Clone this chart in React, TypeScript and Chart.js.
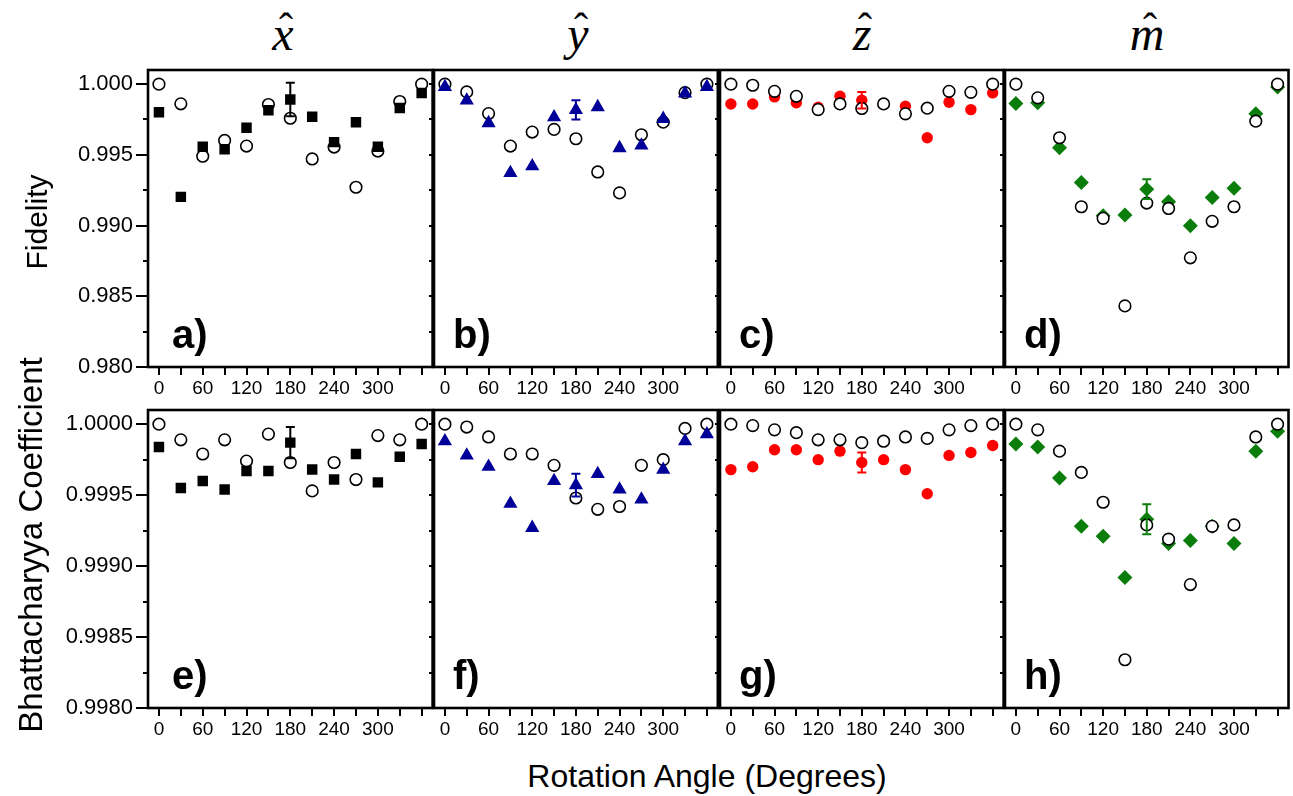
import React, { useEffect, useRef } from "react";
import { Chart, registerables } from "chart.js";
Chart.register(...registerables);

// ---------- data ----------
const angles = [0, 30, 60, 90, 120, 150, 180, 210, 240, 270, 300, 330, 360];
const labelAngles = [0, 60, 120, 180, 240, 300];
const errAngle = 180;

const fidelityTicks = [0.98, 0.985, 0.99, 0.995, 1.0];
const fidelityMinorTicks = [0.9825, 0.9875, 0.9925, 0.9975];
const bhattTicks = [0.998, 0.9985, 0.999, 0.9995, 1.0];
const bhattMinorTicks = [0.99825, 0.99875, 0.99925, 0.99975];

const fidXTheory = [1.0, 0.99861, 0.9949, 0.99602, 0.99562, 0.99856, 0.99759, 0.99471, 0.99555, 0.99271, 0.99527, 0.99877, 1.0];
const fidXMeas = [0.99801, 0.99203, 0.99558, 0.99539, 0.99692, 0.99816, 0.99891, 0.99769, 0.9959, 0.99731, 0.99558, 0.99832, 0.99938];
const fidYTheory = [1.0, 0.99945, 0.99792, 0.99562, 0.99661, 0.9968, 0.99614, 0.99379, 0.99231, 0.99642, 0.99731, 0.9994, 1.0];
const fidYMeas = [0.9998, 0.99885, 0.99725, 0.99372, 0.9942, 0.99766, 0.99818, 0.99838, 0.99548, 0.99567, 0.99755, 0.99935, 0.9998];
const fidZTheory = [1.0, 0.99992, 0.99949, 0.99914, 0.9982, 0.9986, 0.99828, 0.9986, 0.9979, 0.9983, 0.99949, 0.99942, 1.0];
const fidZMeas = [0.9986, 0.9986, 0.9991, 0.99868, 0.99837, 0.99914, 0.99886, 0.9986, 0.99844, 0.99621, 0.99872, 0.9982, 0.99938];
const fidMTheory = [1.0, 0.99903, 0.99621, 0.99133, 0.99051, 0.98432, 0.99159, 0.99121, 0.98772, 0.9903, 0.99133, 0.99738, 1.0];
const fidMMeas = [0.99863, 0.99868, 0.99551, 0.99304, 0.99069, 0.99074, 0.99257, 0.99168, 0.98999, 0.99199, 0.99264, 0.9979, 0.9998];

const bcXTheory = [1.0, 0.99989, 0.99979, 0.99989, 0.99974, 0.99993, 0.99973, 0.99953, 0.99973, 0.99961, 0.99992, 0.99989, 1.0];
const bcXMeas = [0.99984, 0.99955, 0.9996, 0.99954, 0.99967, 0.99967, 0.99987, 0.99968, 0.99961, 0.99979, 0.99959, 0.99977, 0.99986];
const bcYTheory = [1.0, 0.99998, 0.99991, 0.99979, 0.99979, 0.99971, 0.99948, 0.9994, 0.99942, 0.99971, 0.99975, 0.99997, 1.0];
const bcYMeas = [0.99988, 0.99978, 0.9997, 0.99944, 0.99927, 0.9996, 0.99957, 0.99965, 0.99954, 0.99947, 0.99968, 0.99988, 0.99993];
const bcZTheory = [1.0, 0.99999, 0.99996, 0.99994, 0.99989, 0.99989, 0.99987, 0.99988, 0.99991, 0.9999, 0.99996, 0.99999, 1.0];
const bcZMeas = [0.99968, 0.9997, 0.99982, 0.99982, 0.99975, 0.99981, 0.99973, 0.99975, 0.99968, 0.99951, 0.99978, 0.9998, 0.99985];
const bcMTheory = [1.0, 0.99996, 0.99981, 0.99966, 0.99945, 0.99834, 0.99929, 0.99919, 0.99887, 0.99928, 0.99929, 0.99991, 1.0];
const bcMMeas = [0.99986, 0.99984, 0.99962, 0.99928, 0.99921, 0.99892, 0.99933, 0.99916, 0.99918, 0.99928, 0.99916, 0.99981, 0.99995];

const fidErrors = [0.00118, 0.00068, 0.00059, 0.0007];
const bcErrors = [0.00011, 0.00008, 0.00007, 0.000105];

const panelLetters = ["a)", "b)", "c)", "d)", "e)", "f)", "g)", "h)"];
const columnTitles = ["x", "y", "z", "m"];

// ---------- layout / style ----------
const COL_L = [148, 434, 720, 1005];
const COL_R = [434, 720, 1005, 1290];
const ROW_T = [70, 410];
const ROW_B = [367, 708];
const PAD_TOP = 32;
const PAD_RIGHT = 6;
const PAD_BOTTOM = 40;
const SANS = '"Liberation Sans", Arial, Helvetica, sans-serif';

const seriesStyles = [
  { color: "#000000", pointStyle: "rect", radius: 7.4, onTop: true },
  { color: "#000099", pointStyle: "triangle", radius: 8.2, onTop: true },
  { color: "#ff0000", pointStyle: "circle", radius: 5.7, onTop: false },
  { color: "#0a7d0a", pointStyle: "rectRot", radius: 7.5, onTop: false },
];

const rowScales = [
  { min: 0.98, max: 1.001, major: fidelityTicks, minor: fidelityMinorTicks, dec: 3 },
  { min: 0.998, max: 1.0001, major: bhattTicks, minor: bhattMinorTicks, dec: 4 },
];

const theorySets = [fidXTheory, fidYTheory, fidZTheory, fidMTheory, bcXTheory, bcYTheory, bcZTheory, bcMTheory];
const measSets = [fidXMeas, fidYMeas, fidZMeas, fidMMeas, bcXMeas, bcYMeas, bcZMeas, bcMMeas];

type Panel = { row: number; col: number; index: number };
const panels: Panel[] = [];
for (let r = 0; r < 2; r++) for (let c = 0; c < 4; c++) panels.push({ row: r, col: c, index: r * 4 + c });

function padLeft(col: number) {
  return col === 0 ? COL_L[0] : 14;
}

function canvasBox(p: Panel) {
  const pl = padLeft(p.col);
  return {
    left: COL_L[p.col] - pl,
    top: ROW_T[p.row] - PAD_TOP,
    width: COL_R[p.col] - COL_L[p.col] + pl + PAD_RIGHT,
    height: ROW_B[p.row] - ROW_T[p.row] + PAD_TOP + PAD_BOTTOM,
  };
}

function makeChart(canvas: HTMLCanvasElement, p: Panel) {
  const style = seriesStyles[p.col];
  const rs = rowScales[p.row];
  const theory = theorySets[p.index];
  const meas = measSets[p.index];
  const err = (p.row === 0 ? fidErrors : bcErrors)[p.col];
  const errIdx = angles.indexOf(errAngle);

  const deco = {
    id: "panelDeco" + p.index,
    afterDatasetsDraw(chart: any) {
      const { ctx, scales } = chart;
      const x = scales.x;
      const y = scales.y;
      const cx = x.getPixelForValue(errAngle);
      const v = meas[errIdx];
      const y1 = y.getPixelForValue(v + err);
      const y2 = y.getPixelForValue(v - err);
      ctx.save();
      ctx.strokeStyle = style.color;
      ctx.lineWidth = 2;
      ctx.beginPath();
      ctx.moveTo(cx, y1);
      ctx.lineTo(cx, y2);
      ctx.moveTo(cx - 4.5, y1);
      ctx.lineTo(cx + 4.5, y1);
      ctx.moveTo(cx - 4.5, y2);
      ctx.lineTo(cx + 4.5, y2);
      ctx.stroke();
      ctx.restore();
    },
    afterDraw(chart: any) {
      const { ctx, chartArea: ca, scales } = chart;
      const x = scales.x;
      const y = scales.y;
      ctx.save();
      ctx.strokeStyle = "#000";
      ctx.lineWidth = 2.6;
      ctx.strokeRect(ca.left, ca.top, ca.right - ca.left, ca.bottom - ca.top);
      ctx.lineWidth = 2;
      ctx.beginPath();
      for (const a of angles) {
        const px = Math.round(x.getPixelForValue(a));
        ctx.moveTo(px, ca.bottom);
        ctx.lineTo(px, ca.bottom + 8);
      }
      const majorLen = p.col === 0 ? 12 : 5;
      const minorLen = 5;
      for (const t of rs.major) {
        const py = Math.round(y.getPixelForValue(t));
        ctx.moveTo(ca.left, py);
        ctx.lineTo(ca.left - majorLen, py);
      }
      for (const t of rs.minor) {
        const py = Math.round(y.getPixelForValue(t));
        ctx.moveTo(ca.left, py);
        ctx.lineTo(ca.left - minorLen, py);
      }
      ctx.stroke();
      ctx.fillStyle = "#000";
      ctx.font = "bold 40px " + SANS;
      ctx.textAlign = "left";
      ctx.textBaseline = "alphabetic";
      ctx.fillText(panelLetters[p.index], ca.left + (p.col === 0 ? 24 : 19), ca.bottom - 19);
      ctx.restore();
    },
  };

  return new Chart(canvas, {
    type: "scatter",
    data: {
      datasets: [
        {
          data: angles.map((a, i) => ({ x: a, y: meas[i] })),
          order: style.onTop ? 0 : 1,
          pointStyle: style.pointStyle as any,
          pointRadius: style.radius,
          backgroundColor: style.color,
          borderColor: style.color,
          borderWidth: 0,
        },
        {
          data: angles.map((a, i) => ({ x: a, y: theory[i] })),
          order: style.onTop ? 1 : 0,
          pointStyle: "circle",
          pointRadius: 5.8,
          backgroundColor: "#ffffff",
          borderColor: "#000000",
          borderWidth: 1.6,
        },
      ],
    },
    options: {
      responsive: false,
      animation: false,
      events: [],
      layout: { padding: { top: PAD_TOP, right: PAD_RIGHT, left: 0, bottom: 0 } },
      plugins: { legend: { display: false }, tooltip: { enabled: false } },
      scales: {
        x: {
          type: "linear",
          min: -15,
          max: 375,
          position: "bottom",
          afterBuildTicks: (s: any) => {
            s.ticks = angles.map((v) => ({ value: v }));
          },
          afterFit: (s: any) => {
            s.height = PAD_BOTTOM;
          },
          grid: { display: false, drawTicks: false },
          border: { display: false },
          ticks: {
            autoSkip: false,
            maxRotation: 0,
            minRotation: 0,
            padding: 10,
            color: "#000",
            font: { family: SANS, size: 19 },
            callback: (v: any) => (labelAngles.includes(Number(v)) ? String(v) : ""),
          },
        },
        y: {
          type: "linear",
          min: rs.min,
          max: rs.max,
          position: "left",
          afterBuildTicks: (s: any) => {
            s.ticks = rs.major.map((v) => ({ value: v }));
          },
          afterFit: (s: any) => {
            s.width = padLeft(p.col);
          },
          grid: { display: false, drawTicks: false },
          border: { display: false },
          ticks: {
            display: p.col === 0,
            padding: 15,
            color: "#000",
            font: { family: SANS, size: 22 },
            callback: (v: any) => Number(v).toFixed(rs.dec),
          },
        },
      },
    },
    plugins: [deco],
  } as any);
}

function PanelCanvas({ p }: { p: Panel }) {
  const ref = useRef<HTMLCanvasElement | null>(null);
  const box = canvasBox(p);
  useEffect(() => {
    if (!ref.current) return;
    const chart = makeChart(ref.current, p);
    return () => chart.destroy();
  }, []);
  return (
    <canvas
      ref={ref}
      width={box.width}
      height={box.height}
      style={{ position: "absolute", left: box.left, top: box.top, width: box.width, height: box.height }}
    />
  );
}

function HatTitle({ letter, cx }: { letter: string; cx: number }) {
  return (
    <>
      <div
        style={{
          position: "absolute",
          left: cx - 40,
          width: 80,
          top: 10,
          textAlign: "center",
          fontFamily: '"Liberation Serif", "Times New Roman", serif',
          fontStyle: "italic",
          fontSize: 48,
          lineHeight: "48px",
          color: "#000",
        }}
      >
        {letter}
      </div>
      <div
        style={{
          position: "absolute",
          left: cx - 40 + 3,
          width: 80,
          top: 8,
          textAlign: "center",
          fontFamily: '"Liberation Serif", "Times New Roman", serif',
          fontSize: 42,
          lineHeight: "40px",
          color: "#000",
        }}
      >
        {"\u02C6"}
      </div>
    </>
  );
}

const titleCenters = [283, 578, 862, 1147];

export default function App() {
  return (
    <div
      style={{
        position: "fixed",
        left: 0,
        top: 0,
        width: 1293,
        height: 796,
        overflow: "hidden",
        background: "#fff",
      }}
    >
      {columnTitles.map((t, i) => (
        <HatTitle key={t} letter={t} cx={titleCenters[i]} />
      ))}
      {panels.map((p) => (
        <PanelCanvas key={p.index} p={p} />
      ))}
      <div
        style={{
          position: "absolute",
          left: 37 - 100,
          top: 222 - 20,
          width: 200,
          height: 40,
          lineHeight: "40px",
          textAlign: "center",
          transform: "rotate(-90deg)",
          fontFamily: SANS,
          fontSize: 30,
          color: "#000",
          whiteSpace: "nowrap",
        }}
      >
        Fidelity
      </div>
      <div
        style={{
          position: "absolute",
          left: 31 - 250,
          top: 545 - 20,
          width: 500,
          height: 40,
          lineHeight: "40px",
          textAlign: "center",
          transform: "rotate(-90deg)",
          fontFamily: SANS,
          fontSize: 33,
          color: "#000",
          whiteSpace: "nowrap",
        }}
      >
        Bhattacharyya Coefficient
      </div>
      <div
        style={{
          position: "absolute",
          left: 707 - 300,
          top: 756,
          width: 600,
          height: 40,
          lineHeight: "40px",
          textAlign: "center",
          fontFamily: SANS,
          fontSize: 32,
          color: "#000",
          whiteSpace: "nowrap",
        }}
      >
        Rotation Angle (Degrees)
      </div>
    </div>
  );
}
